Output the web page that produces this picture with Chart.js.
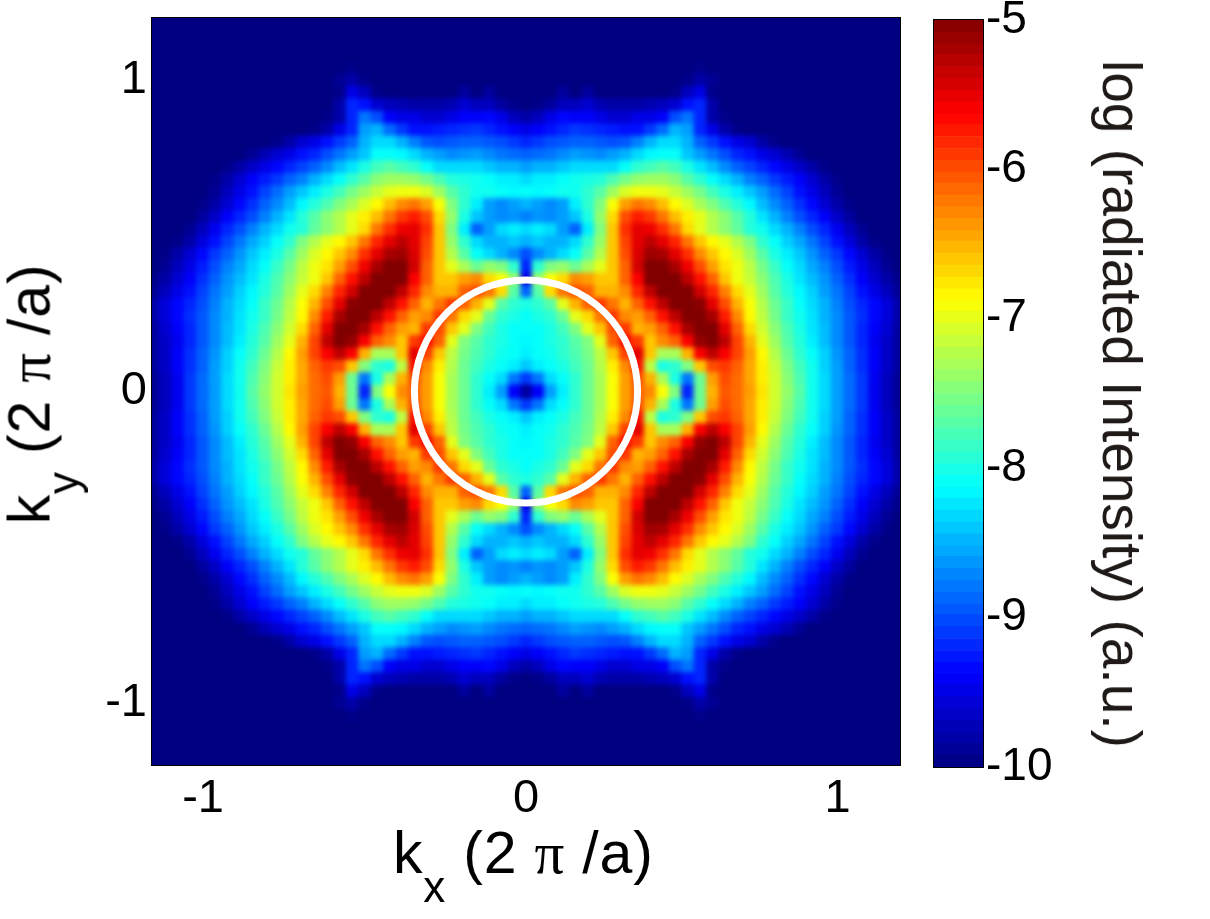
<!DOCTYPE html>
<html>
<head>
<meta charset="utf-8">
<title>Radiated intensity</title>
<script src="https://cdn.jsdelivr.net/npm/chart.js@4"></script>
<style>
  html, body { margin: 0; padding: 0; background: #fff; }
  body { width: 1210px; height: 919px; position: relative; overflow: hidden; font-family: "Liberation Sans", Arial, sans-serif; }
  canvas { position: absolute; top: 0; }
  #mapCanvas { left: 0; }
  #barCanvas { left: 900px; }
  .axisLabel { position: absolute; font-size: 59px; line-height: 60px; white-space: nowrap; color: #000; }
  .axisLabel .sub { font-size: 44px; position: relative; top: 29px; }
  .axisLabel .pi { font-family: "Liberation Serif", serif; }
  #xLabel { left: 393px; top: 823px; letter-spacing: 0.8px; }
  #yLabel { left: 32px; top: 394px; letter-spacing: 0.8px; transform: translate(-50%, -50%) rotate(-90deg); }
  #barLabel { left: 1122px; top: 404px; font-size: 55px; color: #1f1a17; transform: translate(-50%, -50%) rotate(90deg); }
</style>
</head>
<body>
<canvas id="mapCanvas" width="902" height="919"></canvas>
<canvas id="barCanvas" width="310" height="919"></canvas>
<div class="axisLabel" id="xLabel">k<span class="sub">x</span> (2 <span class="pi">π</span> /a)</div>
<div class="axisLabel" id="yLabel">k<span class="sub">y</span> (2 <span class="pi">π</span> /a)</div>
<div class="axisLabel" id="barLabel">log (radiated Intensity) (a.u.)</div>
<script>
// Values. The map mirrors across both axes, so only the
// top right quadrant is kept: rows run from ky = 1.2 down to 0, columns from kx = 0 to 1.2
const kGrid = [0, 0.04, 0.08, 0.12, 0.16, 0.2, 0.24, 0.28, 0.32, 0.36, 0.4, 0.44, 0.48, 0.52, 0.56, 0.6,
    0.64, 0.68, 0.72, 0.76, 0.8, 0.84, 0.88, 0.92, 0.96, 1, 1.04, 1.08, 1.12, 1.16, 1.2];

const logIntensity = [
    [-10,-10,-10,-10,-10,-10,-10,-10,-10,-10,-10,-10,-10,-10,-10,-10,-10,-10,-10,-10,-10,-10,-10,-10,-10,-10,-10,-10,-10,-10,-10],
    [-10,-10,-10,-10,-10,-10,-10,-10,-10,-10,-10,-10,-10,-10,-10,-10,-10,-10,-10,-10,-10,-10,-10,-10,-10,-10,-10,-10,-10,-10,-10],
    [-10,-10,-10,-10,-10,-10,-10,-10,-10,-10,-10,-10,-10,-10,-10,-10,-10,-10,-10,-10,-10,-10,-10,-10,-10,-10,-10,-10,-10,-10,-10],
    [-10,-10,-10,-10,-10,-10,-10,-10,-10,-10,-10,-10,-10,-10,-10,-10,-10,-10,-10,-10,-10,-10,-10,-10,-10,-10,-10,-10,-10,-10,-10],
    [-10,-10,-10,-10,-10,-10,-10,-10,-10,-10,-10,-10,-10,-10,-9.95,-10,-10,-10,-10,-10,-10,-10,-10,-10,-10,-10,-10,-10,-10,-10,-10],
    [-10,-10,-10,-10,-10,-10,-10,-10,-10,-10,-10,-10,-10,-9.95,-9.8,-9.9,-10,-10,-10,-10,-10,-10,-10,-10,-10,-10,-10,-10,-10,-10,-10],
    [-10,-10,-10,-9.85,-10,-9.85,-10,-10,-10,-10,-10,-10,-9.95,-9.7,-9.5,-9.95,-10,-10,-10,-10,-10,-10,-10,-10,-10,-10,-10,-10,-10,-10,-10],
    [-10,-9.95,-9.85,-9.7,-9.7,-9.6,-9.75,-9.8,-9.8,-9.8,-9.75,-9.7,-9.6,-9.3,-9.2,-9.8,-10,-10,-10,-10,-10,-10,-10,-10,-10,-10,-10,-10,-10,-10,-10],
    [-9.8,-9.7,-9.5,-9.35,-9.4,-9.4,-9.5,-9.6,-9.6,-9.5,-9.5,-9.4,-9,-8.8,-9.2,-9.8,-9.95,-10,-10,-10,-10,-10,-10,-10,-10,-10,-10,-10,-10,-10,-10],
    [-9.5,-9.4,-9.3,-9.2,-9.1,-9.15,-9.2,-9.25,-9.3,-9.3,-9.1,-8.85,-8.5,-8.6,-9.2,-9.5,-9.8,-9.95,-10,-10,-10,-10,-10,-10,-10,-10,-10,-10,-10,-10,-10],
    [-9.2,-9.1,-9,-8.95,-8.9,-8.9,-8.95,-9,-8.95,-8.75,-8.5,-8.3,-8.3,-8.5,-8.9,-9.1,-9.3,-9.5,-9.6,-9.8,-9.95,-10,-10,-10,-10,-10,-10,-10,-10,-10,-10],
    [-8.9,-8.85,-8.8,-8.7,-8.6,-8.65,-8.7,-8.6,-8.5,-8.3,-8.15,-8.1,-8.1,-8.4,-8.6,-8.8,-9,-9.2,-9.3,-9.5,-9.6,-9.75,-9.9,-10,-10,-10,-10,-10,-10,-10,-10],
    [-8.6,-8.5,-8.5,-8.4,-8.3,-8.3,-8.3,-8.3,-8.1,-7.9,-7.8,-7.7,-7.8,-8,-8.25,-8.45,-8.7,-8.9,-9.05,-9.2,-9.35,-9.5,-9.65,-9.8,-9.95,-10,-10,-10,-10,-10,-10],
    [-8.3,-8.2,-8.2,-8.1,-8.05,-8,-7.95,-7.75,-7.55,-7.4,-7.35,-7.35,-7.45,-7.7,-7.9,-8.1,-8.3,-8.5,-8.75,-8.9,-9.1,-9.25,-9.4,-9.6,-9.8,-9.95,-10,-10,-10,-10,-10],
    [-8.1,-8.15,-8.1,-8.05,-8.05,-7.9,-7.7,-7.35,-7.05,-6.95,-6.95,-7,-7.15,-7.35,-7.55,-7.8,-8,-8.2,-8.4,-8.6,-8.85,-9.05,-9.3,-9.5,-9.7,-9.9,-10,-10,-10,-10,-10],
    [-8.5,-8.6,-8.7,-8.6,-8.2,-7.9,-7.5,-6.9,-6.4,-6.2,-6.3,-6.55,-6.85,-7.05,-7.3,-7.5,-7.75,-7.95,-8.15,-8.45,-8.7,-8.9,-9.15,-9.35,-9.6,-9.8,-9.95,-10,-10,-10,-10],
    [-8.75,-8.65,-8.7,-8.6,-8.4,-8,-7.4,-6.7,-6,-5.75,-5.9,-6.2,-6.55,-6.8,-7,-7.25,-7.45,-7.7,-7.95,-8.25,-8.5,-8.75,-9,-9.2,-9.4,-9.65,-9.85,-10,-10,-10,-10],
    [-8.3,-8.2,-8.3,-8.6,-8.9,-8.2,-7.5,-6.6,-5.85,-5.5,-5.55,-5.85,-6.2,-6.7,-7,-7.25,-7.45,-7.65,-7.95,-8.05,-8.3,-8.5,-8.75,-9,-9.2,-9.45,-9.7,-9.9,-10,-10,-10],
    [-8.5,-8.4,-8.5,-8.5,-8.3,-7.9,-7.4,-6.6,-5.95,-5.5,-5.3,-5.5,-5.8,-6.2,-6.6,-6.85,-7,-7.25,-7.5,-7.9,-8.1,-8.35,-8.55,-8.8,-9.05,-9.3,-9.55,-9.8,-9.95,-10,-10],
    [-9,-8.7,-8.5,-8.3,-8.1,-7.7,-7.25,-6.6,-6,-5.45,-5.15,-5.2,-5.5,-5.85,-6.3,-6.6,-6.85,-7.05,-7.35,-7.7,-8,-8.2,-8.4,-8.65,-8.9,-9.1,-9.35,-9.6,-9.8,-9.95,-10],
    [-9.2,-7.9,-7.5,-7.4,-7.6,-7.3,-7,-6.6,-6.1,-5.4,-5,-5,-5.2,-5.55,-6,-6.4,-6.75,-6.95,-7.2,-7.55,-7.85,-8.1,-8.3,-8.55,-8.75,-9,-9.25,-9.5,-9.7,-9.9,-10],
    [-9.5,-7.4,-6.9,-6.7,-6.3,-6.4,-6.6,-6.6,-6.1,-5.6,-5,-5,-5,-5.3,-5.7,-6.1,-6.6,-6.95,-7.15,-7.45,-7.75,-8,-8.25,-8.45,-8.65,-8.9,-9.15,-9.4,-9.6,-9.8,-9.95],
    [-8.9,-7.7,-6.7,-6.2,-6,-6.1,-6.5,-6.5,-6.3,-5.8,-5.3,-5,-5,-5,-5.4,-5.8,-6.25,-6.7,-7,-7.35,-7.7,-7.95,-8.15,-8.35,-8.6,-8.8,-9.05,-9.3,-9.5,-9.7,-9.9],
    [-8,-7.9,-7.7,-7,-6.5,-6.1,-5.9,-6.2,-6.5,-6.1,-5.7,-5.3,-5,-5,-5.05,-5.5,-6,-6.5,-6.9,-7.25,-7.6,-7.85,-8.1,-8.3,-8.5,-8.75,-9,-9.2,-9.35,-9.55,-9.8],
    [-8.1,-8,-7.9,-7.6,-7,-6.7,-6.2,-5.9,-6.3,-6.4,-6.1,-5.7,-5.3,-5,-5,-5.2,-5.75,-6.3,-6.85,-7.2,-7.55,-7.85,-8.05,-8.25,-8.5,-8.7,-8.95,-9.15,-9.35,-9.55,-9.8],
    [-8.1,-8.1,-8,-7.8,-7.5,-7,-6.6,-6,-5.9,-6.5,-6.4,-6.1,-5.7,-5.2,-5,-5,-5.5,-6.1,-6.7,-7.1,-7.45,-7.75,-8,-8.25,-8.45,-8.7,-8.95,-9.2,-9.4,-9.6,-9.85],
    [-8.15,-8.1,-8,-7.9,-7.7,-7.5,-7,-6.1,-5.7,-5.9,-6.6,-6.3,-6.1,-5.6,-5.1,-5,-5.3,-5.95,-6.5,-7,-7.35,-7.7,-7.95,-8.2,-8.45,-8.7,-8.95,-9.2,-9.45,-9.65,-9.85],
    [-8.2,-8.1,-8.05,-7.9,-7.75,-7.55,-7.2,-6.6,-5.95,-5.5,-6.6,-7.3,-7.3,-6.5,-5.6,-5.3,-5.6,-5.95,-6.4,-6.85,-7.25,-7.6,-7.9,-8.1,-8.35,-8.65,-8.9,-9.15,-9.4,-9.65,-9.85],
    [-8.4,-8.2,-8.1,-8,-7.8,-7.6,-7.25,-6.8,-6.3,-5.7,-7.2,-8,-7.9,-7.5,-6.6,-6,-5.9,-6.1,-6.45,-6.8,-7.15,-7.5,-7.8,-8.05,-8.35,-8.6,-8.9,-9.15,-9.4,-9.65,-9.85],
    [-9.1,-8.8,-8.3,-8.1,-7.9,-7.6,-7.3,-6.9,-6.4,-6,-6.5,-7.3,-8,-8.8,-7.6,-6.4,-6,-6.15,-6.45,-6.8,-7.1,-7.45,-7.75,-8.05,-8.3,-8.6,-8.85,-9.1,-9.45,-9.7,-9.9],
    [-9.85,-9.4,-8.6,-8.2,-7.9,-7.6,-7.3,-6.9,-6.4,-6.1,-6.3,-6.9,-7.5,-9.2,-7.6,-6.5,-6.05,-6.15,-6.4,-6.75,-7.1,-7.4,-7.7,-8.05,-8.3,-8.6,-8.85,-9.1,-9.45,-9.7,-9.9]
];

const kTicks = [-1, 0, 1];
const barTicks = [-10, -9, -8, -7, -6, -5];
const circleRadius = 0.358;

// Lower edges of the 64 colour bar bands
const barLevels = [-10, -9.92, -9.84, -9.77, -9.69, -9.61, -9.53, -9.45, -9.38, -9.3, -9.22, -9.14, -9.06, -8.98, -8.91, -8.83,
    -8.75, -8.67, -8.59, -8.52, -8.44, -8.36, -8.28, -8.2, -8.13, -8.05, -7.97, -7.89, -7.81, -7.73, -7.66, -7.58,
    -7.5, -7.42, -7.34, -7.27, -7.19, -7.11, -7.03, -6.95, -6.88, -6.8, -6.72, -6.64, -6.56, -6.48, -6.41, -6.33,
    -6.25, -6.17, -6.09, -6.02, -5.94, -5.86, -5.78, -5.7, -5.63, -5.55, -5.47, -5.39, -5.31, -5.23, -5.16, -5.08];

// MATLAB jet colormap
function jet(value) {
    const t = Math.min(1, Math.max(0, (value + 10) / 5));
    const ramp = (c) => Math.round(255 * Math.min(1, Math.max(0, 1.5 - Math.abs(4 * t - c))));
    return `rgb(${ramp(3)}, ${ramp(2)}, ${ramp(1)})`;
}

// Mirror the quadrant into the four parts of the map
const cells = [];
logIntensity.forEach((row, r) => {
    const ky = kGrid[kGrid.length - 1 - r];
    row.forEach((v, c) => {
        const kx = kGrid[c];
        [1, -1].forEach((sx) => {
            [1, -1].forEach((sy) => {
                cells.push({ x: sx * kx, y: sy * ky, v: v });
            });
        });
    });
});

// The reference is shaded smoothly, so soften the drawn cells once they are on the canvas
const softenCells = {
    id: 'softenCells',
    afterDatasetDraw(chart, args) {
        if (args.index !== 1) return;
        const a = chart.chartArea;
        const w = a.right - a.left;
        const h = a.bottom - a.top;
        const ctx = chart.ctx;
        ctx.save();
        ctx.beginPath();
        ctx.rect(a.left, a.top, w, h);
        ctx.clip();
        ctx.filter = 'blur(2.5px)';
        ctx.drawImage(chart.canvas, a.left, a.top, w, h, a.left, a.top, w, h);
        ctx.restore();
    }
};

function fixedTicks(values) {
    return (scale) => { scale.ticks = values.map((v) => ({ value: v })); };
}

// Fix the axis size and drop the room Chart.js keeps for half a tick label at each end
function fixSize(size) {
    return (scale) => {
        if (scale.isHorizontal()) scale.height = size; else scale.width = size;
        scale.paddingTop = 0;
        scale.paddingBottom = 0;
        scale.paddingLeft = 0;
        scale.paddingRight = 0;
    };
}

function boxAxis(position, min, max, values) {
    return {
        position: position,
        min: min,
        max: max,
        afterBuildTicks: fixedTicks(values),
        ticks: { display: false },
        border: { display: true, color: '#000', width: 2 },
        grid: { drawOnChartArea: false, color: '#000', tickLength: -7 },
        afterFit: fixSize(0)
    };
}

new Chart(document.getElementById('mapCanvas'), {
    type: 'scatter',
    data: {
        datasets: [
            {
                label: 'circle',
                data: [{ x: 0, y: 0 }],
                pointStyle: 'circle',
                pointRadius: (ctx) => {
                    const s = ctx.chart.scales.x;
                    return s.getPixelForValue(circleRadius) - s.getPixelForValue(0);
                },
                backgroundColor: 'transparent',
                borderColor: '#fff',
                pointBorderWidth: 7
            },
            {
                label: 'log intensity',
                data: cells,
                pointStyle: 'rect',
                pointRadius: 9.6,
                pointBorderWidth: 0,
                borderWidth: 0,
                backgroundColor: (ctx) => jet(ctx.raw ? ctx.raw.v : -10)
            }
        ]
    },
    options: {
        responsive: false,
        animation: false,
        events: [],
        layout: { autoPadding: false, padding: { top: 18, left: 0, right: 2, bottom: 0 } },
        plugins: { legend: { display: false }, tooltip: { enabled: false } },
        scales: {
            x: {
                position: 'bottom',
                min: -1.2,
                max: 1.2,
                afterBuildTicks: fixedTicks(kTicks),
                ticks: {
                    color: '#000',
                    font: { family: '"Liberation Sans"', size: 47 },
                    padding: 13,
                    maxRotation: 0,
                    // The reference centres "-1" a little left of its tick
                    callback: (v) => (v < 0 ? v + ' \u2009' : String(v))
                },
                border: { display: true, color: '#000', width: 2 },
                grid: { drawOnChartArea: false, color: '#000', tickLength: -7 },
                afterFit: fixSize(154)
            },
            y: {
                position: 'left',
                min: -1.2,
                max: 1.2,
                afterBuildTicks: fixedTicks(kTicks),
                ticks: { color: '#000', font: { family: '"Liberation Sans"', size: 47 }, padding: 12 },
                border: { display: true, color: '#000', width: 2 },
                grid: { drawOnChartArea: false, color: '#000', tickLength: -7 },
                afterFit: fixSize(152)
            },
            xTop: boxAxis('top', -1.2, 1.2, kTicks),
            yRight: boxAxis('right', -1.2, 1.2, kTicks)
        }
    },
    plugins: [softenCells]
});

new Chart(document.getElementById('barCanvas'), {
    type: 'bar',
    data: {
        labels: ['log intensity'],
        datasets: barLevels.map((lo, i) => ({
            data: [[lo, i + 1 < barLevels.length ? barLevels[i + 1] : -5]],
            backgroundColor: jet(lo + 0.039),
            borderWidth: 0,
            barPercentage: 1,
            categoryPercentage: 1,
            grouped: false
        }))
    },
    options: {
        responsive: false,
        animation: false,
        events: [],
        layout: { autoPadding: false, padding: { top: 20, left: 34, right: 0, bottom: 0 } },
        plugins: { legend: { display: false }, tooltip: { enabled: false } },
        scales: {
            x: {
                position: 'bottom',
                ticks: { display: false },
                border: { display: true, color: '#000', width: 2 },
                grid: { display: false },
                afterFit: fixSize(152)
            },
            y: {
                position: 'right',
                min: -10,
                max: -5,
                afterBuildTicks: fixedTicks(barTicks),
                ticks: { color: '#000', font: { family: '"Liberation Sans"', size: 46 }, padding: 9 },
                border: { display: true, color: '#000', width: 2 },
                grid: { drawOnChartArea: false, color: '#000', tickLength: -6 },
                afterFit: fixSize(227)
            },
            yLeft: {
                position: 'left',
                min: -10,
                max: -5,
                afterBuildTicks: fixedTicks(barTicks),
                ticks: { display: false },
                border: { display: true, color: '#000', width: 2 },
                grid: { drawOnChartArea: false, color: '#000', tickLength: -6 },
                afterFit: fixSize(0)
            },
            xTop: {
                position: 'top',
                ticks: { display: false },
                border: { display: true, color: '#000', width: 2 },
                grid: { display: false },
                afterFit: fixSize(0)
            }
        }
    }
});
</script>
</body>
</html>
